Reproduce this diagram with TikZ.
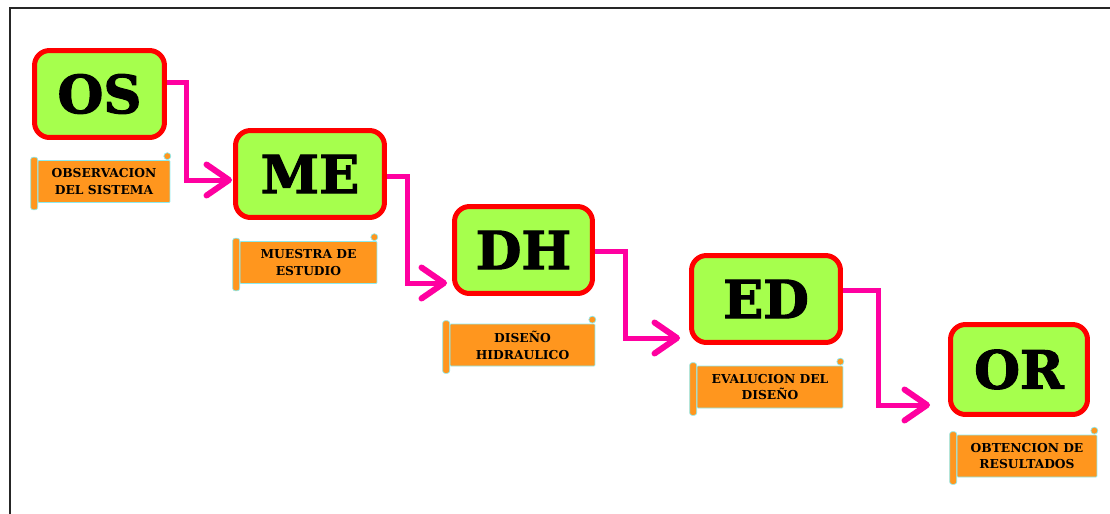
\documentclass[tikz,border=0pt]{standalone}
\usepackage{fontspec}
\setmainfont{DejaVu Serif}
\newfontfamily\heavyserif[FakeBold=2]{DejaVu Serif Bold}
\usepackage{tikz}
\usetikzlibrary{positioning,arrows.meta,calc}
\definecolor{boxgreen}{RGB}{166,255,77}
\definecolor{flowpink}{RGB}{255,0,160}
\definecolor{tagorange}{RGB}{255,150,30}
\definecolor{tagedge}{RGB}{140,235,240}

\begin{document}
\begin{tikzpicture}[
  x=0.02cm, y=-0.02cm,
  stage/.style={draw=red, line width=0.1cm, fill=boxgreen, rounded corners=0.3cm, minimum height=1.74cm, inner sep=0pt, font=\fontsize{30}{30}\selectfont\heavyserif},
  tag/.style={draw=tagedge, line width=0.4pt, fill=tagorange, rounded corners=0.5pt, minimum height=0.84cm, inner sep=1pt, align=center, font=\fontsize{7}{9.6}\selectfont\bfseries},
  roll/.style={draw=tagedge, line width=0.4pt, fill=tagorange, rounded corners=0.05cm},
  flow/.style={draw=flowpink, line width=0.1cm, -{Straight Barb[length=0.45cm, width=0.62cm, line width=0.12cm, round]}}
]
\useasboundingbox (0,0) rectangle (1110,514);
\draw[line width=1.5pt, black!85] (10,530) -- (10,8) -- (1130,8);

\node[stage, minimum width=2.6cm] (OS) at (99.5,94) {OS};
\node[stage, minimum width=2.98cm] (ME) at (310,174) {ME};
\node[stage, minimum width=2.76cm] (DH) at (523.5,250) {DH};
\node[stage, minimum width=2.98cm] (ED) at (766,299) {ED};
\node[stage, minimum width=2.74cm, minimum height=1.8cm] (OR) at (1019,369.5) {OR};

\node[tag, minimum width=2.64cm] (tOS) at (104,181.5) {OBSERVACION\\DEL SISTEMA};
\node[tag, minimum width=2.74cm] (tME) at (308.5,262.5) {MUESTRA DE\\ESTUDIO};
\node[tag, minimum width=2.9cm] (tDH) at (522.5,345) {DISEÑO\\HIDRAULICO};
\node[tag, minimum width=2.92cm] (tED) at (770,387) {EVALUCION DEL\\DISEÑO};
\node[tag, minimum width=2.8cm] (tOR) at (1027,456) {OBTENCION DE\\RESULTADOS};

\foreach \t in {tOS,tME,tDH,tED,tOR}{
  \draw[roll] ($(\t.north west)+(-7,-3)$) rectangle ($(\t.south west)+(0,7)$);
  \draw[roll] ($(\t.north east)+(-3,-4)$) circle (0.07cm);
}

\draw[flow] ($(OS.east)+(0,-12)$) -| ($(ME.west)+(-47,6)$) -- ($(ME.west)+(-1,6)$);
\draw[flow] ($(ME.east)+(0,2)$) -| ($(DH.west)+(-45,33)$) -- ($(DH.west)+(-5,33)$);
\draw[flow] ($(DH.east)+(0,1)$) -| ($(ED.west)+(-64,39)$) -- ($(ED.west)+(-9,39)$);
\draw[flow] ($(ED.east)+(0,-9)$) -| ($(OR.west)+(-70,35.5)$) -- ($(OR.west)+(-18,35.5)$);
\end{tikzpicture}
\end{document}
